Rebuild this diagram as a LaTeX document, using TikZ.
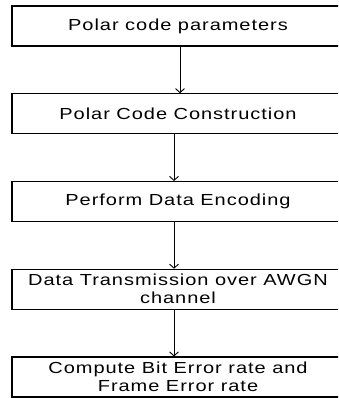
\documentclass[tikz,border=0pt]{standalone}
\usepackage{fontspec}
\setmainfont{Liberation Sans}[FakeStretch=1.25,LetterSpace=6]
\usetikzlibrary{positioning,arrows.meta}

\begin{document}
\begin{tikzpicture}[x=1pt,y=1pt,node distance=87.75pt,on grid,
    stage/.style={draw,line width=1.1pt,minimum width=332pt,minimum height=40pt,
        inner sep=0pt,align=center,font=\fontsize{16}{18}\selectfont},
    flow/.style={-{Straight Barb[length=4pt,width=9pt]},line width=0.9pt}]
    \path[use as bounding box,clip] (0,0) rectangle (338,-398);
    \node[stage] (params) at (178,-26) {Polar code parameters};
    \node[stage] (constr) [below=of params] {Polar Code Construction};
    \node[stage] (encode) [below=of constr] {Perform Data Encoding};
    \node[stage] (trans) [below=of encode] {Data Transmission over AWGN\\channel};
    \node[stage] (errors) [below=of trans] {Compute Bit Error rate and\\Frame Error rate};
    \draw[flow] ([xshift=2pt]params.south) -- ([xshift=2pt]constr.north);
    \draw[flow] ([xshift=-4pt]constr.south) -- ([xshift=-4pt]encode.north);
    \draw[flow] ([xshift=-4pt]encode.south) -- ([xshift=-4pt]trans.north);
    \draw[flow] ([xshift=-4pt]trans.south) -- ([xshift=-4pt]errors.north);
\end{tikzpicture}
\end{document}
